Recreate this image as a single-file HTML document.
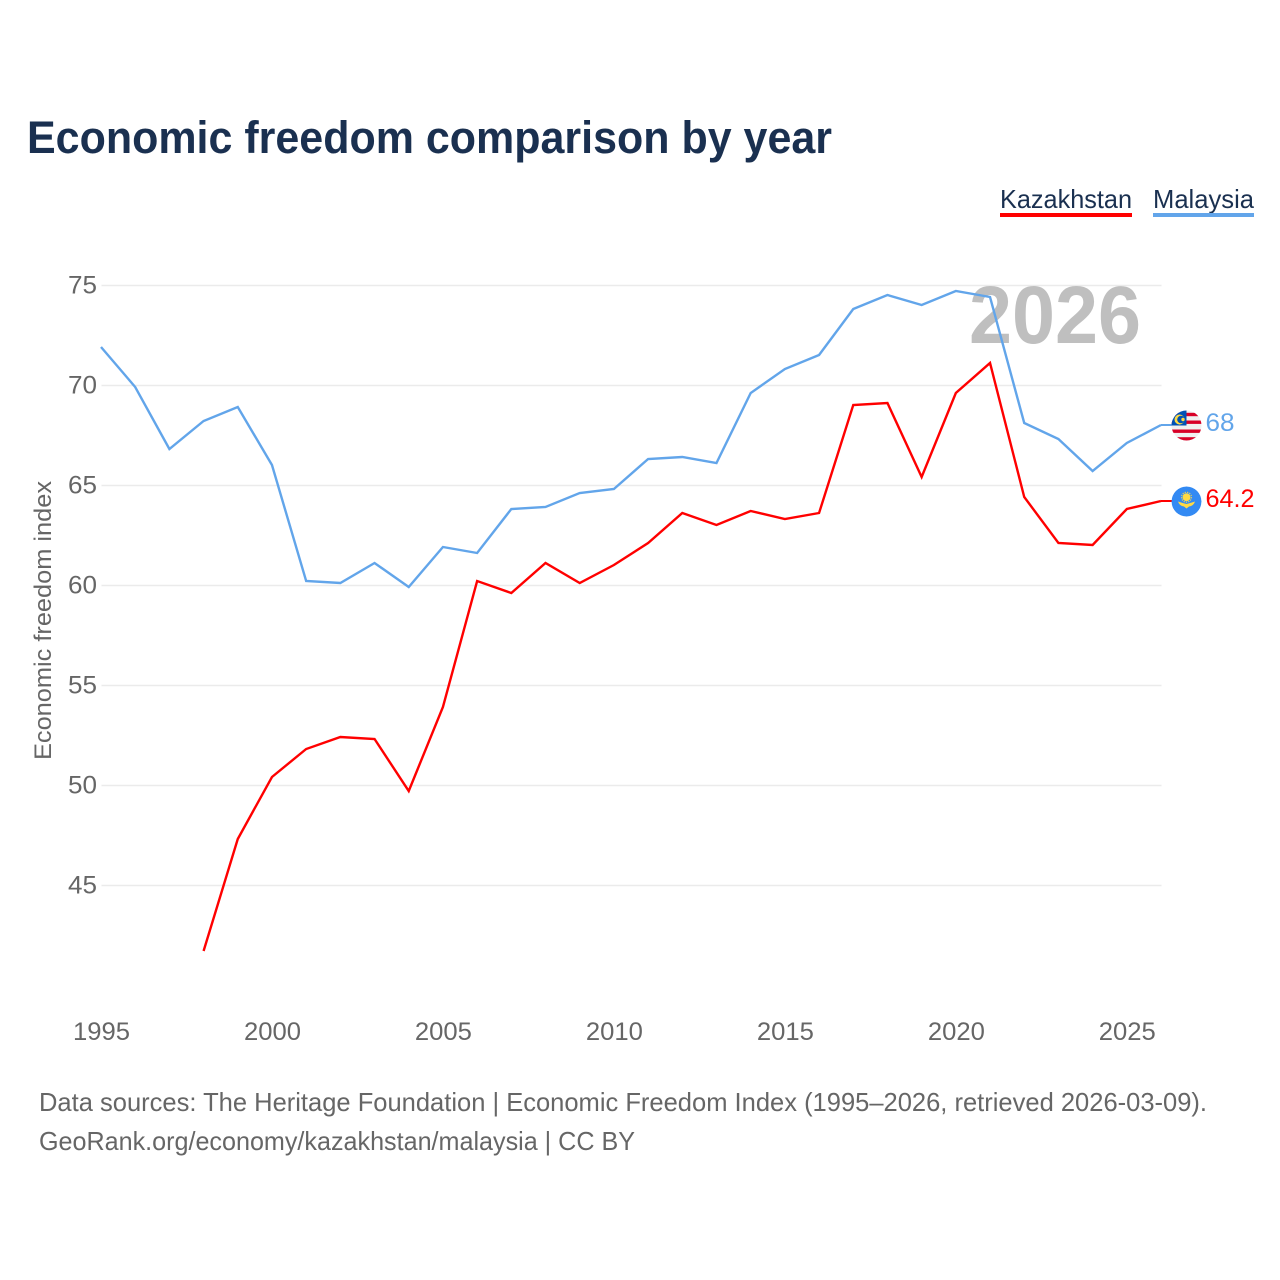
<!DOCTYPE html>
<html lang="en">
<head>
<meta charset="utf-8">
<title>Economic freedom comparison by year</title>
<style>
html,body{margin:0;padding:0;background:#fff;width:1280px;height:1280px;overflow:hidden}
svg{display:block}
text{font-family:"Liberation Sans",sans-serif}
</style>
</head>
<body>
<svg id="chart" xmlns="http://www.w3.org/2000/svg" width="1280" height="1280" viewBox="0 0 1280 1280">
  <defs>
    <clipPath id="my-clip"><circle cx="0" cy="0" r="15"/></clipPath>
    <clipPath id="kz-clip"><circle cx="0" cy="0" r="15"/></clipPath>
  </defs>
  <rect width="1280" height="1280" fill="#fff"/>
  <text x="27" y="153" font-size="45" font-weight="700" fill="#1a3050" textLength="805" lengthAdjust="spacingAndGlyphs">Economic freedom comparison by year</text>
  <g>
    <text x="1000" y="208" font-size="26" fill="#1a3050" textLength="132" lengthAdjust="spacingAndGlyphs">Kazakhstan</text>
    <rect x="1000" y="213" width="132" height="4" fill="#ff0000"/>
  </g>
  <g>
    <text x="1153" y="208" font-size="26" fill="#1a3050" textLength="101" lengthAdjust="spacingAndGlyphs">Malaysia</text>
    <rect x="1153" y="213" width="101" height="4" fill="#62a5ea"/>
  </g>
  <g id="grid"></g>
  <g id="yticks"></g>
  <g id="xticks"></g>
  <text transform="translate(51,760) rotate(-90)" font-size="24" fill="#666" textLength="279" lengthAdjust="spacingAndGlyphs">Economic freedom index</text>
  <text x="969" y="343" font-size="82" font-weight="700" fill="#bfbfbf" textLength="172" lengthAdjust="spacingAndGlyphs">2026</text>
  <g id="series"></g>
  <g id="ends"></g>
  <text x="39" y="1111" font-size="26" fill="#666" textLength="1168" lengthAdjust="spacingAndGlyphs">Data sources: The Heritage Foundation | Economic Freedom Index (1995–2026, retrieved 2026-03-09).</text>
  <text x="39" y="1150" font-size="26" fill="#666" textLength="596" lengthAdjust="spacingAndGlyphs">GeoRank.org/economy/kazakhstan/malaysia | CC BY</text>
</svg>
<script>
const years = [1995,1996,1997,1998,1999,2000,2001,2002,2003,2004,2005,2006,2007,2008,2009,2010,2011,2012,2013,2014,2015,2016,2017,2018,2019,2020,2021,2022,2023,2024,2025,2026];
const malaysiaValues = [71.9,69.9,66.8,68.2,68.9,66.0,60.2,60.1,61.1,59.9,61.9,61.6,63.8,63.9,64.6,64.8,66.3,66.4,66.1,69.6,70.8,71.5,73.8,74.5,74.0,74.7,74.4,68.1,67.3,65.7,67.1,68.0];
const kazakhstanValues = [null,null,null,41.7,47.3,50.4,51.8,52.4,52.3,49.7,53.9,60.2,59.6,61.1,60.1,61.0,62.1,63.6,63.0,63.7,63.3,63.6,69.0,69.1,65.4,69.6,71.1,64.4,62.1,62.0,63.8,64.2];
const yTickValues = [45,50,55,60,65,70,75];
const xTickValues = [1995,2000,2005,2010,2015,2020,2025];

const NS = 'http://www.w3.org/2000/svg';
const xScale = function (year) { return 101 + (year - 1995) * (1060 / 31); };
const yScale = function (value) { return 285 + (75 - value) * 20; };

function make(tag, parent) {
  const node = document.createElementNS(NS, tag);
  parent.appendChild(node);
  return node;
}
function set(node, attrs) {
  Object.keys(attrs).forEach(function (k) { node.setAttribute(k, attrs[k]); });
  return node;
}

const grid = document.getElementById('grid');
const yticks = document.getElementById('yticks');
const xticks = document.getElementById('xticks');
const series = document.getElementById('series');
const ends = document.getElementById('ends');

yTickValues.forEach(function (v) {
  const line = make('line', grid);
  
  
  set(line, {x1: 101.5, x2: 1161.5, y1: yScale(v) + 0.5, y2: yScale(v) + 0.5, stroke: '#ebebeb', 'stroke-width': 1.4});
  const label = make('text', yticks);
  
  
  set(label, {x: 97, y: yScale(v) + 8.5, 'font-size': 25, fill: '#666', 'text-anchor': 'end', textLength: 29, lengthAdjust: 'spacingAndGlyphs'});
  label.textContent = v;
});

xTickValues.forEach(function (y) {
  const label = make('text', xticks);
  
  
  set(label, {x: xScale(y) - 28, y: 1040, 'font-size': 25, fill: '#666', textLength: 57, lengthAdjust: 'spacingAndGlyphs'});
  label.textContent = y;
});

function pathFor(values) {
  let d = '';
  values.forEach(function (v, i) {
    if (v === null) return;
    d += (d ? 'L' : 'M') + xScale(years[i]).toFixed(2) + ' ' + yScale(v).toFixed(2);
  });
  return d;
}

const kzLine = make('path', series);


set(kzLine, {d: pathFor(kazakhstanValues), fill: 'none', stroke: '#ff0000', 'stroke-width': 2.4, 'stroke-linejoin': 'miter'});

const myLine = make('path', series);


set(myLine, {d: pathFor(malaysiaValues), fill: 'none', stroke: '#62a5ea', 'stroke-width': 2.4, 'stroke-linejoin': 'miter'});

const lastX = xScale(years[years.length - 1]);
const myLast = malaysiaValues[malaysiaValues.length - 1];
const kzLast = kazakhstanValues[kazakhstanValues.length - 1];

const myTail = make('line', ends);


set(myTail, {x1: lastX, x2: lastX + 12, y1: yScale(myLast), y2: yScale(myLast), stroke: '#62a5ea', 'stroke-width': 2});

const kzTail = make('line', ends);


set(kzTail, {x1: lastX, x2: lastX + 12, y1: yScale(kzLast), y2: yScale(kzLast), stroke: '#ff0000', 'stroke-width': 2});

/* Malaysia flag */
const myFlag = make('g', ends);


set(myFlag, {transform: 'translate(1186.5,' + (yScale(myLast) + 0.5) + ')', 'clip-path': 'url(#my-clip)'});
set(make('rect', myFlag), {x: -15, y: -15, width: 30, height: 30, fill: '#f0f0f0'});
[-12.7, -5, 4, 11.7].forEach(function (sy) {
  set(make('rect', myFlag), {x: -15, y: sy, width: 30, height: 3.4, fill: '#d80027'});
});
set(make('rect', myFlag), {x: -15, y: -15, width: 15, height: 15, fill: '#0052b4'});
set(make('circle', myFlag), {cx: -7, cy: -6, r: 5, fill: '#ffda44'});
set(make('circle', myFlag), {cx: -5.5, cy: -6, r: 3.8, fill: '#0052b4'});
set(make('circle', myFlag), {cx: -3.5, cy: -6, r: 1.7, fill: '#ffda44'});

/* Kazakhstan flag */
const kzFlag = make('g', ends);


set(kzFlag, {transform: 'translate(1186.5,' + (yScale(kzLast) + 0.5) + ')', 'clip-path': 'url(#kz-clip)'});
set(make('circle', kzFlag), {cx: 0, cy: 0, r: 15, fill: '#338af3'});
set(make('circle', kzFlag), {cx: 0, cy: -4.3, r: 4, fill: '#ffda44'});
set(make('circle', kzFlag), {cx: 0, cy: -4.3, r: 5, fill: 'none', stroke: '#ffda44', 'stroke-width': 1, 'stroke-dasharray': '1.2 1.2'});
set(make('path', kzFlag), {d: 'M-8.5 0Q-4 1.5 0 2.5 4 1.5 8.5 0 7 4.5 2.5 5L0 7-2.5 5Q-7 4.5-8.5 0Z', fill: '#ffda44'});

const myLabel = make('text', ends);


set(myLabel, {x: 1205.5, y: yScale(myLast) + 6, 'font-size': 25, fill: '#62a5ea', textLength: 29, lengthAdjust: 'spacingAndGlyphs'});
myLabel.textContent = myLast;

const kzLabel = make('text', ends);


set(kzLabel, {x: 1205.5, y: yScale(kzLast) + 6, 'font-size': 25, fill: '#ff0000', textLength: 49, lengthAdjust: 'spacingAndGlyphs'});
kzLabel.textContent = kzLast;
</script>
</body>
</html>
